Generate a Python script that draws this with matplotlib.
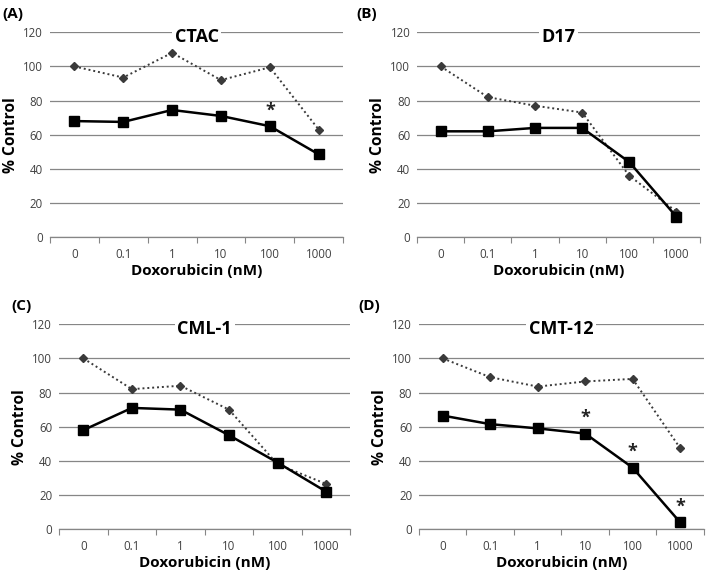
import matplotlib
matplotlib.use("Agg")
import matplotlib.pyplot as plt

plt.rcParams['font.family'] = ['Open Sans', 'DejaVu Sans']

doses = ["0", "0.1", "1", "10", "100", "1000"]

ctac_dot = [100, 93.5, 108, 92, 99.5, 63]
ctac_sq = [68, 67.5, 74.5, 71, 65, 48.5]
d17_dot = [100, 82, 77, 73, 36, 15]
d17_sq = [62, 62, 64, 64, 44, 12]
cml_dot = [100, 82, 84, 70, 38, 26.5]
cml_sq = [58, 71, 70, 55, 39, 22]
cmt_dot = [100, 89, 83.5, 86.5, 88, 47.5]
cmt_sq = [66.5, 61.5, 59, 56, 36, 4]

panels = [
    ("(A)", "CTAC", ctac_dot, ctac_sq, [4], [0.070, 0.589, 0.412, 0.355]),
    ("(B)", "D17", d17_dot, d17_sq, [], [0.586, 0.589, 0.397, 0.355]),
    ("(C)", "CML-1", cml_dot, cml_sq, [], [0.083, 0.083, 0.409, 0.355]),
    ("(D)", "CMT-12", cmt_dot, cmt_sq, [3, 4, 5], [0.5885, 0.083, 0.400, 0.355]),
]

fig = plt.figure(figsize=(7.12, 5.77), dpi=100)

for tag, name, dot, sq, stars, rect in panels:
    ax = fig.add_axes(rect)
    x = list(range(len(doses)))
    ax.plot(x, dot, ls=(0, (1, 1.5)), color='#3a3a3a', lw=1.4,
            marker='D', ms=4, mfc='#3a3a3a', mec='#3a3a3a', zorder=3)
    ax.plot(x, sq, ls='-', color='black', lw=1.8,
            marker='s', ms=6.5, mfc='black', mec='black', zorder=4)
    for i in stars:
        ax.text(i, sq[i] + 4, "*", ha='center', va='bottom', fontsize=13,
                fontweight='bold', color='#222222')

    ax.set_xlim(-0.5, 5.5)
    ax.set_ylim(0, 120)
    ax.set_yticks(range(0, 121, 20))
    ax.yaxis.grid(True, color='#868686', lw=0.9)
    ax.set_axisbelow(True)
    ax.tick_params(axis='y', length=0, labelsize=8.3, colors='#404040', pad=5)

    ax.set_xticks([i - 0.5 for i in range(7)])
    ax.set_xticklabels([])
    ax.set_xticks(x, minor=True)
    ax.set_xticklabels(doses, minor=True)
    ax.tick_params(axis='x', which='major', length=4, color='#868686', direction='out')
    ax.tick_params(axis='x', which='minor', length=0, labelsize=8.3,
                   colors='#404040', pad=8)

    for s in ['top', 'right', 'left']:
        ax.spines[s].set_visible(False)
    ax.spines['bottom'].set_color('#868686')
    ax.spines['bottom'].set_linewidth(0.9)

    ax.set_xlabel("Doxorubicin (nM)", fontsize=11, fontweight='bold', labelpad=2)
    ax.set_ylabel("% Control", fontsize=11.2, fontweight='bold', labelpad=3)

    ax.text(2.5, 117, name, ha='center', va='center', fontsize=13,
            fontweight='bold', zorder=5,
            bbox=dict(facecolor='white', edgecolor='none', pad=2))

    fig.text(rect[0] - 0.067 if rect[0] < 0.5 else rect[0] - 0.085,
             rect[1] + rect[3] + 0.032, tag, fontsize=11, fontweight='bold',
             ha='left', va='center')

fig.savefig("out.png", dpi=100)
